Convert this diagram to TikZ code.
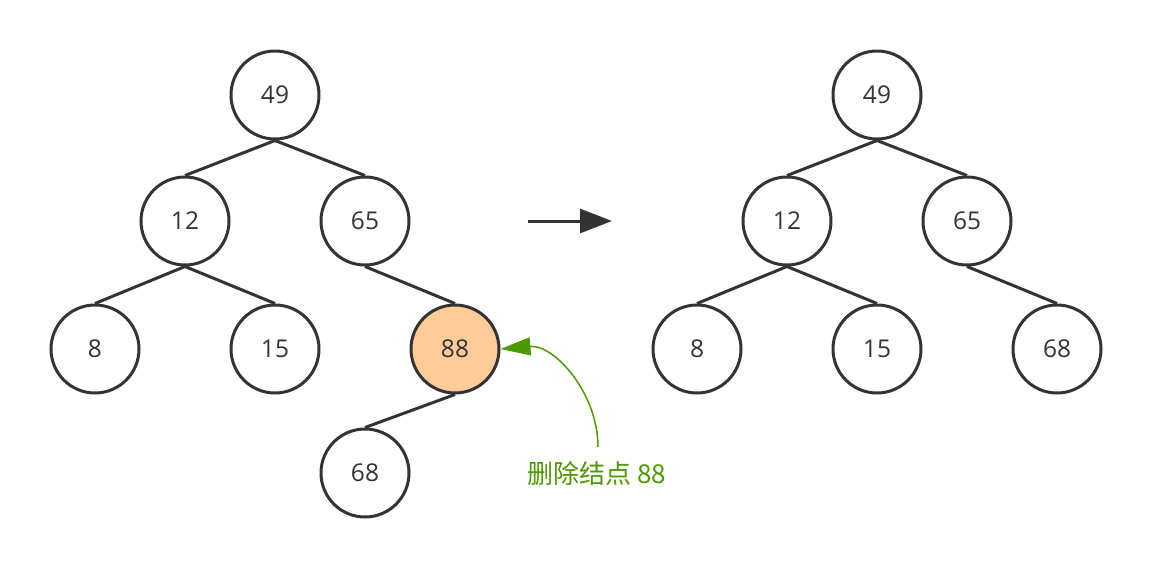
\documentclass[tikz,border=0pt]{standalone}
\usepackage{fontspec}
\setmainfont{Open Sans}
\newfontfamily\cjk{Noto Sans CJK SC}
\usetikzlibrary{arrows.meta}
\definecolor{ink}{HTML}{333333}
\definecolor{hilite}{HTML}{FFCC99}
\definecolor{note}{HTML}{4D9900}
\begin{document}
\begin{tikzpicture}[x=1pt,y=-1pt,
  key/.style={circle,draw=ink,line width=3pt,minimum size=88pt,inner sep=0pt,
    text=ink,font=\fontsize{24.5}{24.5}\selectfont},
  edge/.style={draw=ink,line width=3pt},
  removed/.style={key,fill=hilite}]
\useasboundingbox (0,0) rectangle (1152,568);

% tree before deletion
\node[key] (a49) at (275,95) {49};
\node[key] (a12) at (185,221) {12};
\node[key] (a65) at (365,221) {65};
\node[key] (a8)  at (95,349) {8};
\node[key] (a15) at (275,349) {15};
\node[removed] (a88) at (455,349) {88};
\node[key] (a68) at (365,473) {68};
\draw[edge] (a49.south) -- (a12.north);
\draw[edge] (a49.south) -- (a65.north);
\draw[edge] (a12.south) -- (a8.north);
\draw[edge] (a12.south) -- (a15.north);
\draw[edge] (a65.south) -- (a88.north);
\draw[edge] (a88.south) -- (a68.north);

% tree after deletion
\node[key] (b49) at (877,95) {49};
\node[key] (b12) at (787,221) {12};
\node[key] (b65) at (967,221) {65};
\node[key] (b8)  at (697,349) {8};
\node[key] (b15) at (877,349) {15};
\node[key] (b68) at (1057,349) {68};
\draw[edge] (b49.south) -- (b12.north);
\draw[edge] (b49.south) -- (b65.north);
\draw[edge] (b12.south) -- (b8.north);
\draw[edge] (b12.south) -- (b15.north);
\draw[edge] (b65.south) -- (b68.north);

% transition arrow
\coordinate (s) at (528,221);
\coordinate (t) at (612,221);
\draw[ink,line width=3pt,-{Triangle[length=32pt,width=24pt]}] (s) -- (t);

% annotation
\node[text=note,font=\cjk\fontsize{26}{26}\selectfont] (lbl) at (597,474) {删除结点 88};
\coordinate (c0) at (598,447);
\draw[note,line width=1.5pt,-{Triangle[length=30pt,width=18pt]}]
  (c0) to[out=90,in=5] (a88.east);
\end{tikzpicture}
\end{document}
